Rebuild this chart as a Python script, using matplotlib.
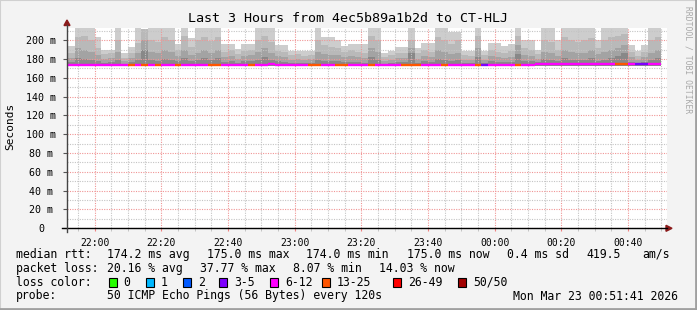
import numpy as np
import pandas as pd
import matplotlib
matplotlib.use("Agg")
import matplotlib.pyplot as plt
import matplotlib.dates as mdates
from matplotlib.lines import Line2D
from matplotlib.patches import Polygon, Rectangle

# 2-minute SmokePing steps, 21:52 .. 00:50
step_start = pd.date_range("2026-03-22 21:52", periods=89, freq="2min")

# smoke layers (ms); 215 = clipped at top of graph
smoke_top = [194, 215, 215, 215, 204, 190, 190, 215, 186, 193,
             215, 212, 215, 215, 215, 215, 196, 215, 202, 215,
             215, 215, 215, 196, 196, 191, 196, 196, 215, 215,
             215, 195, 195, 189, 189, 189, 189, 215, 204, 204,
             200, 194, 196, 196, 196, 215, 215, 186, 189, 193,
             193, 215, 192, 197, 197, 215, 215, 209, 209, 189,
             189, 215, 189, 197, 197, 194, 196, 215, 200, 200,
             190, 215, 215, 200, 215, 215, 215, 215, 215, 200,
             215, 215, 215, 215, 195, 189, 195, 215, 215]
smoke_upper = [186, 203, 205, 200, 192, 185, 186, 200, 181, 186,
               197, 212, 200, 198, 203, 200, 190, 205, 193, 200,
               203, 199, 203, 188, 190, 185, 189, 190, 200, 205,
               198, 189, 188, 184, 185, 183, 184, 200, 195, 193,
               192, 188, 190, 188, 187, 205, 200, 182, 184, 186,
               187, 200, 186, 190, 188, 203, 200, 196, 200, 184,
               183, 205, 184, 190, 188, 187, 189, 205, 192, 190,
               185, 200, 198, 190, 203, 200, 198, 200, 202, 192,
               200, 203, 205, 207, 188, 183, 188, 200, 203]
smoke_mid = [181, 192, 190, 188, 184, 180, 181, 188, 178, 181,
             186, 200, 188, 186, 190, 188, 183, 190, 184, 187,
             190, 186, 190, 182, 183, 180, 183, 184, 188, 192,
             186, 183, 182, 179, 180, 179, 180, 188, 185, 184,
             184, 182, 183, 182, 181, 192, 188, 178, 179, 181,
             181, 192, 180, 183, 182, 190, 188, 185, 187, 179,
             179, 192, 179, 183, 182, 181, 182, 195, 184, 183,
             180, 188, 186, 183, 190, 188, 186, 187, 190, 185,
             188, 190, 192, 195, 182, 179, 182, 187, 190]
smoke_low = [177, 181, 180, 179, 178, 176, 177, 179, 175, 177,
             179, 190, 179, 178, 180, 179, 178, 181, 178, 179,
             181, 179, 181, 177, 178, 176, 178, 178, 179, 182,
             179, 178, 177, 176, 176, 176, 176, 179, 178, 178,
             178, 177, 177, 177, 176, 182, 179, 175, 176, 177,
             177, 186, 176, 178, 177, 180, 179, 178, 179, 176,
             176, 182, 176, 178, 177, 177, 177, 185, 178, 178,
             177, 180, 179, 178, 181, 179, 179, 179, 181, 178,
             179, 181, 183, 186, 177, 176, 177, 179, 181]
smoke_floor = 172.5

median_rtt = [174] * 30 + [175] + [174] * 39 + [175] * 19

# loss bin index per step (into loss_labels)
loss_bin = [4, 4, 4, 4, 4, 4, 4, 4, 4, 5,
            4, 5, 4, 5, 4, 4, 5, 4, 4, 4,
            4, 5, 5, 4, 4, 4, 4, 5, 4, 4,
            4, 4, 4, 4, 4, 4, 5, 5, 4, 4,
            5, 5, 4, 4, 4, 5, 4, 4, 4, 4,
            5, 5, 5, 4, 4, 4, 5, 4, 4, 4,
            4, 5, 3, 4, 4, 4, 4, 5, 4, 4,
            4, 4, 4, 4, 4, 4, 4, 4, 4, 4,
            4, 4, 5, 5, 4, 3, 3, 4, 4]

loss_labels = ["0", "1", "2", "3-5", "6-12", "13-25", "26-49", "50/50"]
loss_colors = ["#26ff00", "#00b8ff", "#0059ff", "#7e00ff",
               "#ff00ff", "#ff5500", "#ff0000", "#a10000"]

plt.rcParams["font.family"] = ["DejaVu Sans Mono"]

W, H = 697, 310
fig = plt.figure(figsize=(W / 100, H / 100), dpi=100, facecolor="#f3f3f3")


def fx(x):
    return x / W


def fy(y):
    return 1 - y / H


# frame
fig.add_artist(Rectangle((0, 0), 1, 1, transform=fig.transFigure, fill=False,
                         edgecolor="#d0d0d0", linewidth=1.5))
fig.add_artist(Line2D([fx(0), fx(W)], [fy(H - 1), fy(H - 1)], color="#a0a0a0", lw=2))
fig.add_artist(Line2D([fx(W - 1), fx(W - 1)], [fy(0), fy(H)], color="#a0a0a0", lw=2))

x0_px, x1_px, y0_px, y1_px = 67, 667, 228.3, 27.7
ax = fig.add_axes([fx(x0_px), fy(y0_px), (x1_px - x0_px) / W, (y0_px - y1_px) / H])
ax.set_facecolor("white")

x = mdates.date2num(step_start)
w = 2 / 1440

layers = [(smoke_top, "#cdcdcd"), (smoke_upper, "#b9b9b9"),
          (smoke_mid, "#a3a3a3"), (smoke_low, "#888888")]
for vals, c in layers:
    vals = np.array(vals, dtype=float)
    ax.bar(x, vals - smoke_floor, bottom=smoke_floor, width=w, align="edge",
           color=c, linewidth=0, zorder=1)

ax.hlines(median_rtt, x, x + w, colors=[loss_colors[b] for b in loss_bin],
          linewidth=1.7, zorder=4)

ax.set_xlim(mdates.date2num(pd.Timestamp("2026-03-22 21:51:41")),
            mdates.date2num(pd.Timestamp("2026-03-23 00:51:41")))
ax.set_ylim(0, 213.4)

ax.xaxis.set_major_locator(mdates.MinuteLocator(byminute=[0, 20, 40]))
ax.xaxis.set_minor_locator(mdates.MinuteLocator(byminute=range(0, 60, 5)))
ax.xaxis.set_major_formatter(mdates.DateFormatter("%H:%M"))
ax.set_yticks(np.arange(0, 201, 20))
ax.set_yticks(np.arange(0, 211, 10), minor=True)
ax.set_yticklabels(["0"] + [f"{v} m" for v in range(20, 201, 20)])

ax.set_axisbelow(False)
ax.grid(which="major", color="#f09595", linestyle=(0, (1, 1.2)), linewidth=0.8)
ax.grid(which="minor", color="#c4c4c4", linestyle=(0, (1, 1.2)), linewidth=0.8)

ax.tick_params(axis="y", which="major", length=3, color="#555555", labelsize=7.2, pad=2)
ax.tick_params(axis="y", which="minor", length=0)
ax.tick_params(axis="x", which="major", length=2, color="#f08080", labelsize=7, pad=5)
ax.tick_params(axis="x", which="minor", length=2, color="#bbbbbb")
for lab in ax.get_yticklabels():
    lab.set_horizontalalignment("center")
ax.tick_params(axis="y", pad=15.5)

for s in ax.spines.values():
    s.set_visible(False)

# axis lines and arrows
fig.add_artist(Line2D([fx(62), fx(667)], [fy(228.3), fy(228.3)], color="black", lw=1))
fig.add_artist(Line2D([fx(67), fx(67)], [fy(232), fy(25)], color="#444444", lw=1))
fig.add_artist(Polygon([(fx(64), fy(25.5)), (fx(70), fy(25.5)), (fx(67), fy(20))],
                       closed=True, transform=fig.transFigure, color="#8b1a1a"))
fig.add_artist(Polygon([(fx(666), fy(225.3)), (fx(666), fy(231.3)), (fx(672), fy(228.3))],
                       closed=True, transform=fig.transFigure, color="#8b1a1a"))

fig.text(fx(348), fy(19), "Last 3 Hours from 4ec5b89a1b2d to CT-HLJ",
         ha="center", va="center", fontsize=9.6)
fig.text(fx(10), fy(126), "Seconds", rotation=90, ha="center", va="center", fontsize=8)
fig.text(fx(688), fy(6), "RRDTOOL / TOBI OETIKER", rotation=270, ha="center", va="top",
         fontsize=5.8, color="#a8a8a8")

fs = 8.3
rows = [
    (254.3, [(16, "median rtt:"), (107, "174.2 ms avg"), (207, "175.0 ms max"),
             (306, "174.0 ms min"), (407, "175.0 ms now"), (507, "0.4 ms sd"),
             (586, "419.5"), (642, "am/s")]),
    (268.3, [(16, "packet loss:"), (107, "20.16 % avg"), (200, "37.77 % max"),
             (293, "8.07 % min"), (379, "14.03 % now")]),
    (296, [(16, "probe:"), (107, "50 ICMP Echo Pings (56 Bytes) every 120s"),
           (513, "Mon Mar 23 00:51:41 2026")]),
]
for y, items in rows:
    for xp, t in items:
        fig.text(fx(xp), fy(y), t, ha="left", va="center", fontsize=fs)

fig.text(fx(16), fy(282), "loss color:", ha="left", va="center", fontsize=fs)
box_x = [108.7, 145.7, 182.7, 219.3, 270, 321.7, 393.3, 458.3]
for bx, lab, c in zip(box_x, loss_labels, loss_colors):
    fig.add_artist(Rectangle((fx(bx), fy(286.7)), 8 / W, 9 / H, transform=fig.transFigure,
                             facecolor=c, edgecolor="black", linewidth=0.8))
    fig.text(fx(bx + 15), fy(282), lab, ha="left", va="center", fontsize=fs)

fig.savefig("out.png", dpi=100, facecolor=fig.get_facecolor())
